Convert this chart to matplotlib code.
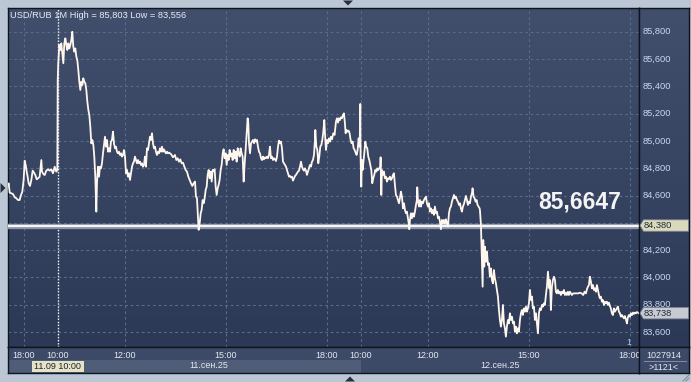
import numpy as np
import matplotlib.pyplot as plt
from matplotlib.colors import LinearSegmentedColormap
from matplotlib.patches import Polygon, Rectangle
import matplotlib.transforms as mtransforms

plt.rcParams['font.family'] = ['Liberation Sans', 'DejaVu Sans']

W, H = 691, 382

# time = trading minutes from 11.09 10:00 (sessions 10:00-19:00 glued one after another)
t_min = [
    -88.6, -87.4, -85.6, -82.7, -79.7, -76.7, -73.8, -70.8, -67.8, -66.0,
    -63.1, -60.7, -58.9, -57.1, -55.3, -53.6, -51.8, -49.4, -47.0, -44.6,
    -42.3, -39.9, -37.5, -35.1, -32.2, -29.2, -28.0, -25.6, -23.3, -20.3,
    -17.3, -14.3, -11.4, -8.4, -5.4, -2.5, -0.7,
    0.0, 1.0, 2.9, 4.7, 6.4, 8.2, 10.0, 11.8, 13.6, 15.4, 17.1, 18.9, 20.7,
    22.5, 24.3, 26.0, 27.8, 29.6, 31.4, 33.2, 34.9, 36.7, 38.5, 40.3, 42.1,
    43.9, 45.6, 47.4, 49.2, 51.0, 52.8, 54.6, 56.3, 58.1, 59.9, 61.7, 63.5,
    65.2, 67.0, 68.8, 70.0, 71.8, 73.6, 75.3, 77.1, 78.9, 80.7, 82.5, 84.3,
    86.0, 87.8, 89.6, 91.4, 93.2, 94.9, 96.7, 98.5, 100.3, 102.1, 103.9,
    105.6, 107.4, 109.2, 111.0, 112.8, 114.5, 116.3, 118.1, 119.9, 121.7,
    123.5, 125.2, 127.0, 128.8, 130.6, 132.4, 134.2, 135.9, 137.7, 139.5,
    141.3, 143.1, 144.8, 146.6, 148.4, 150.2, 152.0, 153.8, 155.5, 157.3,
    159.1, 160.9, 162.7, 164.5, 166.2, 168.0, 169.8, 171.6, 173.4, 175.1,
    176.9, 178.7, 180.5, 182.3, 184.1, 185.8, 187.6, 189.4, 191.2, 193.0,
    194.8, 196.5,
    198.3, 201.9, 205.5, 209.0, 211.4, 213.8, 216.1, 218.5, 220.9, 223.3,
    225.7, 228.0, 230.4, 232.8, 235.2, 237.5, 239.9, 242.3, 244.7, 246.4,
    248.2, 250.0, 251.2, 253.0, 254.8, 256.5, 258.3, 260.1, 261.9, 263.7,
    265.5, 267.2, 269.0, 270.8, 272.6, 274.4, 276.1, 277.9, 279.7, 281.5,
    283.3, 285.1, 286.8, 288.6, 290.4, 292.2, 294.0, 295.7, 297.5, 299.3,
    301.1, 302.9, 304.7, 306.4, 308.2, 310.0, 311.8, 313.6, 315.3, 317.1,
    318.9, 320.7, 322.5, 324.3, 326.0, 327.8, 329.6, 331.4, 333.2, 334.9,
    336.7, 338.5, 339.7, 340.9, 342.7, 344.5, 346.2, 348.0, 349.8, 351.6,
    353.4, 355.1, 356.9, 358.7, 360.5, 362.3, 364.1, 365.8, 367.6, 369.4,
    371.2, 373.0, 374.7, 376.5, 378.3, 380.1, 381.9, 383.7, 385.4, 387.2,
    389.0, 390.8, 392.6, 394.4, 396.1, 397.9, 399.7, 401.5, 403.3, 405.0,
    406.8, 408.6, 410.4, 412.2, 414.0, 415.7, 417.5, 419.3, 421.1, 422.9,
    424.6, 426.4, 428.2, 430.0, 431.8, 433.6, 435.3, 437.1, 438.9, 440.7,
    442.5, 444.2, 446.0, 447.8, 449.6, 451.4, 453.2, 454.9, 456.7, 458.5,
    459.1, 460.9, 462.7, 464.4, 466.2, 468.0, 469.8, 471.6, 473.4, 475.1,
    476.3, 478.1, 479.9, 481.7, 483.5, 485.2, 487.0, 488.8, 491.2, 493.5,
    494.1, 495.9, 497.7, 499.5, 501.2, 503.0, 504.8, 506.6, 508.4, 510.1,
    511.9, 513.1, 514.9, 516.7, 518.5, 520.2, 522.0, 523.8, 525.6, 527.4,
    529.2, 530.9, 532.7, 534.5, 536.3, 538.1, 539.3, 539.8,
    541.0, 542.2, 543.4, 544.6, 546.4, 548.2, 549.9, 551.7, 553.5, 555.3,
    557.1, 558.9, 560.6, 562.4, 564.2, 566.0, 567.8, 569.5, 571.3, 573.1,
    574.9, 575.5, 576.7, 577.9, 579.6, 581.4, 583.2, 585.0, 586.8, 588.6,
    590.3, 592.1, 593.9, 595.7, 597.5, 599.2, 601.0, 602.8, 604.6, 606.4,
    608.2, 609.9, 611.7, 613.5, 615.3, 617.1, 618.9, 620.6, 622.4, 624.2,
    626.0, 626.6, 627.8, 629.5, 631.3, 633.1, 634.9, 636.7, 638.5, 640.2,
    640.8, 642.0, 643.8, 645.6, 647.4, 649.1, 650.9, 652.7, 654.5, 656.3,
    658.1, 659.8, 661.6, 663.4, 665.2, 667.0, 668.7, 670.5, 672.3, 674.1,
    675.9, 677.7, 679.4, 681.2, 683.0, 684.8, 686.6, 688.3, 690.1, 691.9,
    693.7, 695.5, 697.3, 699.0, 700.8, 702.6, 704.4, 706.2, 708.0, 709.7,
    711.5, 713.3, 715.1, 716.9, 718.6, 720.4, 722.2, 724.0, 725.8, 727.6,
    729.3, 731.1, 732.9, 734.7, 736.5, 738.2, 739.4, 741.2, 743.0, 744.8,
    746.6, 748.3, 750.1, 751.9, 752.5,
    754.3, 756.1, 757.3, 758.4, 760.2, 761.4, 763.2, 765.0, 766.8, 768.5,
    770.3, 772.1, 773.9, 775.7, 777.4, 779.2, 781.0, 782.8, 784.6, 786.4,
    788.1, 789.9, 791.7, 793.5, 795.3, 797.0, 798.8, 800.6, 802.4, 804.2,
    806.0, 807.7, 809.5, 811.3, 813.1, 814.9, 816.7, 818.4, 820.2, 822.0,
    823.8, 825.6, 827.3, 829.1, 830.9, 832.7, 834.5, 836.3, 838.0, 839.8,
    841.6, 843.4, 845.2, 846.9, 848.7, 850.5, 852.3, 854.1, 855.9, 857.6,
    859.4, 861.2, 863.0, 864.8, 866.5, 868.3, 870.1, 871.9, 873.7, 874.9,
    876.1, 877.2, 879.0, 880.8, 882.6, 884.4, 886.2, 887.9, 889.7, 891.5,
    893.3, 895.1, 896.8, 898.6, 900.4, 902.2, 904.0, 905.8, 907.5, 909.3,
    911.1, 912.9, 914.7, 916.4, 918.8, 921.8, 924.8, 927.7, 930.7, 933.7,
    936.6, 939.0, 941.4, 943.2, 945.0, 946.7, 948.5, 950.3, 952.1, 953.9,
    955.6, 957.4, 959.2, 961.0, 962.8, 964.6, 966.3, 968.1, 969.9, 971.7,
    973.5, 975.3, 977.0, 978.8, 980.6, 982.4, 984.2, 985.9, 987.7, 989.5,
    991.3, 993.1, 994.9, 996.6, 998.4, 1000.2, 1002.0, 1003.8, 1005.6, 1007.3,
    1009.1, 1010.9, 1012.7, 1014.5, 1016.2, 1018.0, 1019.8, 1021.6, 1023.4, 1025.2,
    1026.9, 1028.7, 1030.5, 1032.3, 1034.1, 1035.3,
]
price = [
    84.677, 84.689, 84.621, 84.616, 84.611, 84.587, 84.580, 84.567, 84.567, 84.597,
    84.628, 84.714, 84.855, 84.824, 84.775, 84.738, 84.689, 84.670, 84.714, 84.782,
    84.768, 84.750, 84.719, 84.726, 84.738, 84.860, 84.775, 84.758, 84.750, 84.782,
    84.792, 84.782, 84.792, 84.763, 84.811, 84.775, 84.787,
    85.446, 85.569, 85.703, 85.666, 85.715, 85.642, 85.569, 85.715, 85.752, 85.703, 85.666, 85.715, 85.678,
    85.703, 85.740, 85.800, 85.691, 85.654, 85.678, 85.617, 85.593, 85.520, 85.434, 85.373, 85.434,
    85.410, 85.459, 85.434, 85.422, 85.373, 85.288, 85.227, 85.190, 85.104, 84.982, 85.007, 84.970,
    84.885, 84.738, 84.482, 84.689, 84.811, 84.738, 84.811, 84.799, 84.836, 84.909, 84.970, 85.031,
    84.958, 85.007, 84.921, 84.946, 84.921, 84.995, 85.007, 85.068, 84.982, 84.946, 84.958,
    84.921, 84.909, 84.921, 84.897, 84.909, 84.885, 84.897, 84.933, 84.885, 84.763,
    84.787, 84.738, 84.763, 84.714, 84.763, 84.811, 84.836, 84.848, 84.885, 84.860,
    84.836, 84.860, 84.836, 84.848, 84.824, 84.836, 84.811, 84.824, 84.885, 84.811,
    84.946, 84.933, 84.982, 85.031, 85.007, 85.056, 84.982, 84.946, 84.958, 84.921,
    84.897, 84.921, 84.909, 84.946, 84.921, 84.958, 84.921, 84.938, 84.921, 84.909,
    84.921, 84.909,
    84.914, 84.904, 84.880, 84.897, 84.860, 84.873, 84.848, 84.865, 84.836, 84.841,
    84.812, 84.787, 84.775, 84.738, 84.714, 84.690, 84.670, 84.690, 84.702, 84.592,
    84.580, 84.445, 84.348, 84.396, 84.470, 84.494, 84.567, 84.543, 84.580, 84.641,
    84.665, 84.751, 84.787, 84.726, 84.775, 84.702, 84.787, 84.782, 84.792, 84.665,
    84.604, 84.653, 84.677, 84.714, 84.787, 84.824, 84.909, 84.939, 84.873, 84.909,
    84.824, 84.897, 84.860, 84.934, 84.885, 84.909, 84.860, 84.934, 84.873, 84.921,
    84.848, 84.946, 84.909, 84.885, 84.946, 84.909, 84.885, 84.702, 84.836, 84.934,
    85.056, 85.166, 85.129, 84.983, 84.909, 84.983, 84.995, 85.007, 84.983, 85.012,
    84.995, 85.007, 84.958, 84.921, 84.909, 84.873, 84.860, 84.885, 84.865, 84.880,
    84.873, 84.885, 84.873, 84.897, 84.958, 84.873, 84.885, 84.860, 84.873, 84.865,
    84.853, 84.885, 84.958, 85.002, 84.983, 84.995, 84.946, 84.848, 84.836, 84.824,
    84.812, 84.787, 84.763, 84.738, 84.743, 84.733, 84.738, 84.709, 84.726, 84.743,
    84.751, 84.763, 84.775, 84.782, 84.812, 84.848, 84.812, 84.792, 84.782, 84.799,
    84.782, 84.751, 84.775, 84.799, 84.824, 84.812, 84.848, 84.860, 84.897, 85.007,
    85.080, 84.958, 84.934, 84.836, 84.885, 84.958, 84.970, 85.007, 85.068, 85.153,
    85.056, 84.934, 85.007, 84.983, 85.019, 84.995, 85.031, 85.012, 85.056, 85.044,
    85.068, 85.141, 85.166, 85.134, 85.166, 85.153, 85.173, 85.166, 85.190, 85.202,
    85.129, 85.056, 85.080, 85.068, 85.075, 85.056, 85.007, 84.983, 84.995, 84.946,
    84.934, 84.914, 84.897, 84.934, 85.019, 84.958, 85.271, 84.885,
    84.665, 84.860, 84.787, 84.836, 84.909, 84.995, 84.958, 84.946, 84.885, 84.860,
    84.824, 84.787, 84.690, 84.726, 84.751, 84.787, 84.775, 84.799, 84.787, 84.799,
    84.812, 84.880, 84.604, 84.787, 84.751, 84.775, 84.726, 84.738, 84.702, 84.726,
    84.719, 84.738, 84.714, 84.726, 84.751, 84.763, 84.677, 84.604, 84.592, 84.567,
    84.543, 84.580, 84.628, 84.592, 84.506, 84.543, 84.494, 84.470, 84.482, 84.433,
    84.384, 84.353, 84.421, 84.470, 84.433, 84.470, 84.445, 84.482, 84.531, 84.567,
    84.660, 84.567, 84.519, 84.567, 84.519, 84.555, 84.543, 84.567, 84.580, 84.592,
    84.543, 84.519, 84.543, 84.482, 84.506, 84.470, 84.494, 84.458, 84.519, 84.470,
    84.482, 84.433, 84.445, 84.409, 84.353, 84.421, 84.396, 84.421, 84.392, 84.426,
    84.396, 84.372, 84.470, 84.506, 84.519, 84.555, 84.580, 84.604, 84.580, 84.592,
    84.567, 84.555, 84.531, 84.543, 84.506, 84.482, 84.519, 84.538, 84.567, 84.597,
    84.567, 84.531, 84.555, 84.543, 84.592, 84.616, 84.653, 84.592, 84.580, 84.555,
    84.567, 84.531, 84.519, 84.506, 84.494,
    84.384, 84.103, 83.932, 84.274, 84.079, 84.225, 84.115, 84.188, 84.091, 84.103,
    84.005, 84.066, 83.981, 83.956, 84.054, 83.993, 83.956, 83.908, 83.859, 83.761,
    83.688, 83.639, 83.688, 83.798, 83.663, 83.627, 83.566, 83.639, 83.688, 83.663,
    83.737, 83.688, 83.712, 83.663, 83.676, 83.602, 83.639, 83.590, 83.627, 83.602,
    83.688, 83.737, 83.761, 83.725, 83.773, 83.749, 83.786, 83.749, 83.773, 83.810,
    83.908, 83.834, 83.859, 83.773, 83.786, 83.688, 83.737, 83.663, 83.590, 83.737,
    83.773, 83.761, 83.798, 83.786, 83.810, 83.798, 83.871, 83.932, 84.042, 83.981,
    83.920, 83.981, 83.761, 83.932, 83.981, 84.005, 83.981, 83.895, 83.883, 83.908,
    83.883, 83.895, 83.871, 83.895, 83.883, 83.908, 83.871, 83.888, 83.871, 83.895,
    83.871, 83.895, 83.883, 83.871, 83.883, 83.883, 83.883, 83.883, 83.888, 83.883,
    83.871, 83.895, 83.883, 83.913, 83.932, 83.944, 84.005, 83.969, 83.920, 83.944,
    83.908, 83.920, 83.895, 83.944, 83.908, 83.871, 83.847, 83.859, 83.822, 83.834,
    83.798, 83.822, 83.810, 83.822, 83.798, 83.815, 83.790, 83.773, 83.737, 83.724,
    83.773, 83.749, 83.761, 83.773, 83.786, 83.749, 83.737, 83.712, 83.724, 83.712,
    83.700, 83.717, 83.693, 83.663, 83.707, 83.724, 83.712, 83.737, 83.724, 83.742,
    83.732, 83.742, 83.737, 83.746, 83.742, 83.738,
]

y_ticks = [83.6, 83.8, 84.0, 84.2, 84.4, 84.6, 84.8, 85.0, 85.2, 85.4, 85.6, 85.8]
x_tick_pos = [-60, 0, 120, 300, 480, 540, 660, 840, 1020]
x_tick_lbl = ['18:00', '10:00', '12:00', '15:00', '18:00', '10:00', '12:00', '15:00', '18:00']
day_start = [0, 540]
day_lbl = ['11.сен.25', '12.сен.25']
level_price = 84.380
last_price = 83.738
big_quote = '85,6647'
title = 'USD/RUB 1M High = 85,803 Low = 83,556'
cursor_lbl = '11.09 10:00'
volume_lbl = '1027914'
count_lbl = '>1121<'

x0, x1 = -88.6, 1036.0
y0, y1 = 83.490, 85.974


def fmt(v):
    return f'{v:.3f}'.replace('.', ',')


def box(l, t, r, b):
    return [l / W, 1 - b / H, (r - l) / W, (b - t) / H]


bg_cmap = LinearSegmentedColormap.from_list('bg', ['#2c3956', '#414f6d'])
grad = np.linspace(0, 1, 256).reshape(-1, 1)

fig = plt.figure(figsize=(W / 100, H / 100), dpi=100, facecolor='#bcc7d6')

# main price area
ax = fig.add_axes(box(8, 8, 639, 347))
ax.set_xlim(x0, x1)
ax.set_ylim(y0, y1)
ax.imshow(grad, extent=[x0, x1, y0, y1], origin='lower', aspect='auto',
          cmap=bg_cmap, zorder=0)
for v in y_ticks:
    ax.axhline(v, color='#5a6a8a', lw=0.8, dashes=(2.5, 2.5), zorder=1)
for p in x_tick_pos:
    ax.axvline(p, color='#5a6a8a', lw=0.8, dashes=(2.5, 2.5), zorder=1)
ax.axvline(0, color='#f0f0f0', lw=1, dashes=(1, 1.2), zorder=2)
ax.axhline(level_price, color='#8d96a8', lw=3.8, zorder=3)
ax.axhline(level_price, color='#f6f6f6', lw=1.6, zorder=4)
ax.plot(t_min, price, color='#fff6ee', lw=1.3, zorder=5)
ax.set_xticks([])
ax.set_yticks([])
for s in ax.spines.values():
    s.set_color('#10141c')
    s.set_linewidth(1)

# right price scale
rx = fig.add_axes(box(639, 8, 689, 347))
rx.set_xlim(0, 1)
rx.set_ylim(y0, y1)
rx.imshow(grad, extent=[0, 1, y0, y1], origin='lower', aspect='auto',
          cmap=bg_cmap, zorder=0)
hh = 0.042
tags = [(level_price, '#d8dabb'), (last_price, '#c6cad3')]
for v in y_ticks:
    # labels fully hidden behind a price tag are not drawn
    if any(abs(v - t) < hh * 1.2 for t, _ in tags):
        continue
    rx.text(0.07, v, fmt(v), color='#c4d8f4', fontsize=6.7, va='center', zorder=2)
tr = mtransforms.blended_transform_factory(rx.transAxes, rx.transData)
for v, fc in tags:
    rx.add_patch(Polygon([(0.02, v), (0.09, v + hh), (0.99, v + hh), (0.99, v - hh), (0.09, v - hh)],
                         closed=True, transform=tr, facecolor=fc, edgecolor='#7c8090',
                         lw=0.6, zorder=3))
    rx.text(0.09, v, fmt(v), transform=tr, color='#262a36', fontsize=6.7,
            va='center', zorder=4)
rx.set_xticks([])
rx.set_yticks([])
for s in rx.spines.values():
    s.set_color('#10141c')
    s.set_linewidth(1)

# time scale
bx = fig.add_axes(box(8, 347, 639, 373))
bx.set_xlim(x0, x1)
bx.set_ylim(0, 26)
bx.set_facecolor('#3c4a67')
bx.add_patch(Rectangle((x0, 0), day_start[1] - x0, 13, facecolor='#4f5d79', lw=0))
for p, lbl in zip(x_tick_pos, x_tick_lbl):
    bx.text(p, 18, lbl, color='#e4e8f0', fontsize=6.5, ha='center', va='center', clip_on=True)
for s0, lbl in zip(day_start, day_lbl):
    c = (max(s0, x0) + min(s0 + 540, x1)) / 2
    bx.text(c, 7, lbl, color='#e4e8f0', fontsize=6.5, ha='center', va='center')
px_per_min = 631 / (x1 - x0)
hw = 26 / px_per_min
bx.add_patch(Rectangle((0 - hw, 1.3), 2 * hw, 11, facecolor='#e6e4c6', lw=0, zorder=3))
bx.text(0, 6.8, cursor_lbl, color='#1e2230', fontsize=6.5, ha='center', va='center', zorder=4)
bx.set_xticks([])
bx.set_yticks([])
for s in bx.spines.values():
    s.set_color('#10141c')
    s.set_linewidth(1)

# counters box
cx = fig.add_axes(box(639, 347, 689, 373))
cx.set_xlim(0, 50)
cx.set_ylim(26, 0)
cx.set_facecolor('#3c4a67')
cx.text(25, 8, volume_lbl, color='#e4e8f0', fontsize=6.5, ha='center', va='center')
cx.text(25, 20.5, count_lbl, color='#e4e8f0', fontsize=6.5, ha='center', va='center')
cx.plot([5, 47], [14, 14], color='#8290a8', lw=0.7)
cx.set_xticks([])
cx.set_yticks([])
for s in cx.spines.values():
    s.set_color('#10141c')
    s.set_linewidth(1)

# overlay in pixel units for captions and window decorations
ov = fig.add_axes([0, 0, 1, 1], zorder=10)
ov.set_xlim(0, W)
ov.set_ylim(H, 0)
ov.axis('off')
ov.patch.set_alpha(0)
ov.text(10, 15, title, color='#e6ecf4', fontsize=6.7, va='center')
ov.text(538, 202.5, big_quote, color='#f4f4f4', fontsize=16.5, fontweight='bold', va='center')
ov.text(629, 342.5, '1', color='#a8c6ee', fontsize=6.2, ha='center', va='center')
for pts in ([(343, 0.5), (353, 0.5), (348, 5.5)],
            [(345, 381.5), (355, 381.5), (350, 376.5)],
            [(0.5, 183), (0.5, 193), (5.5, 188)]):
    ov.add_patch(Polygon(pts, closed=True, facecolor='#283040', lw=0))
ov.plot([683, 689], [381, 375], color='#8090a0', lw=0.8)
ov.plot([686, 689], [381, 378], color='#8090a0', lw=0.8)

fig.savefig('out.png', dpi=100, facecolor=fig.get_facecolor())
